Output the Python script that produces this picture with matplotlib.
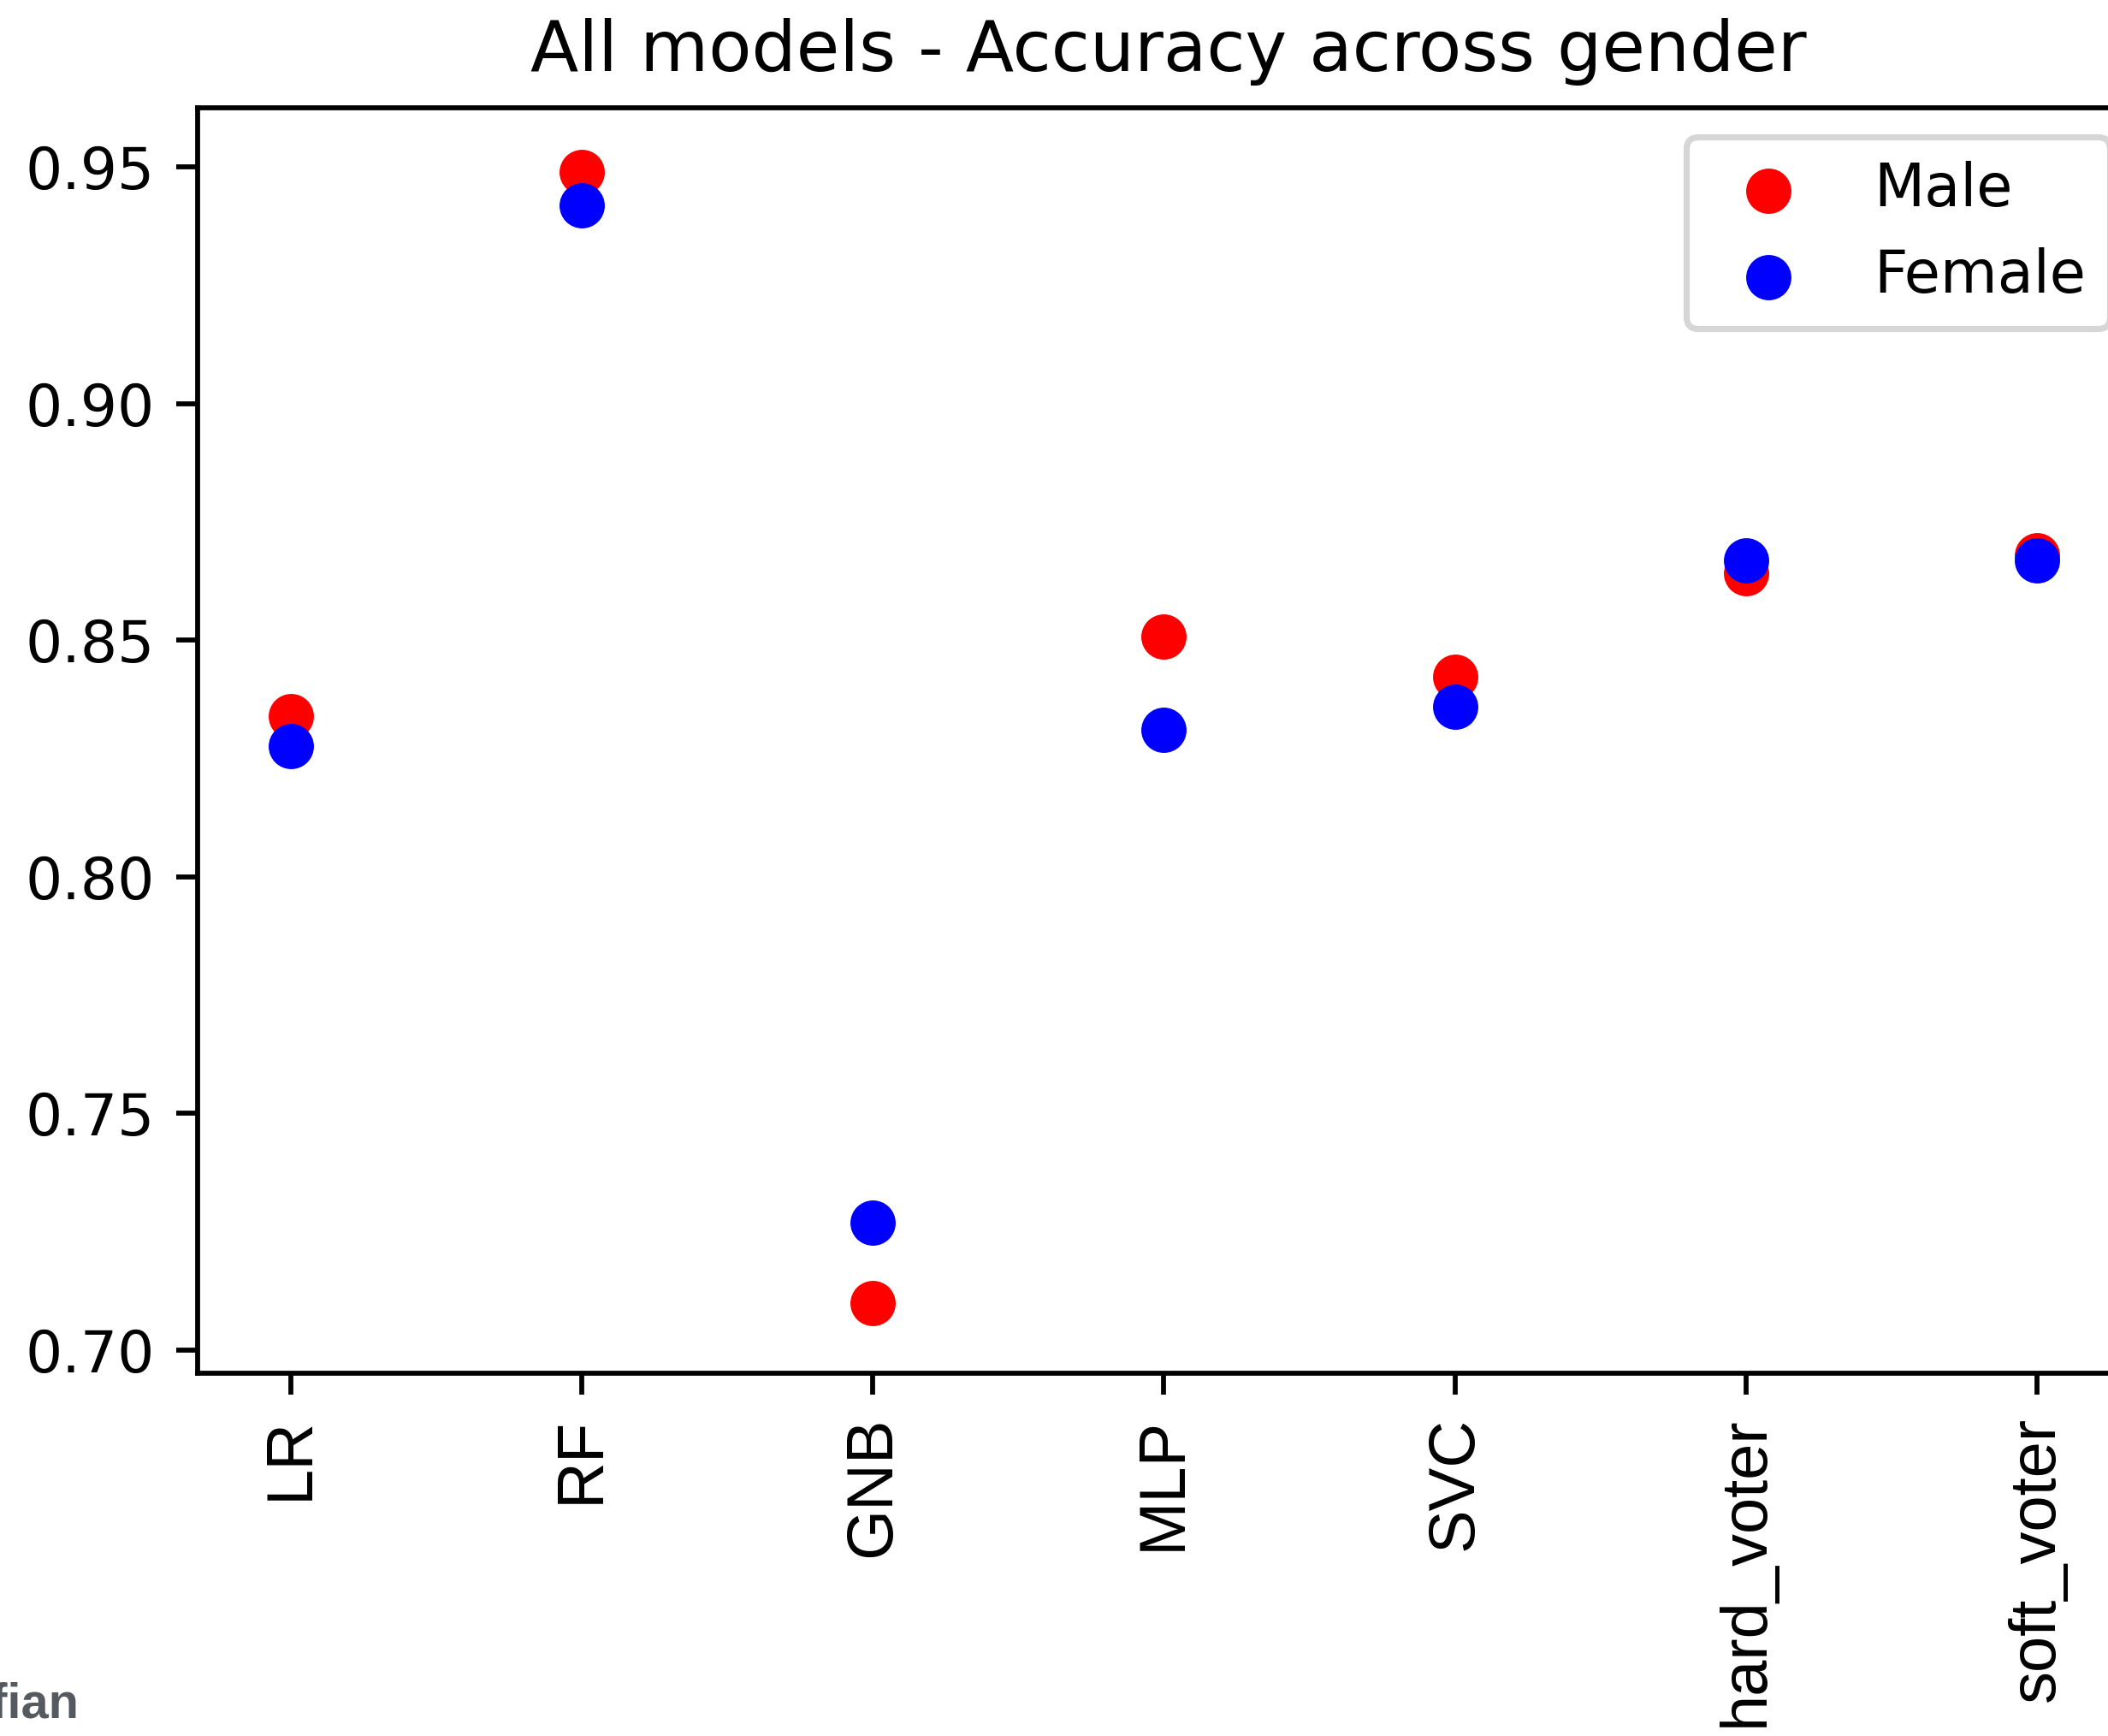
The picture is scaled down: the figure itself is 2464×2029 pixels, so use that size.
import matplotlib
matplotlib.use("Agg")
import matplotlib.pyplot as plt

models = ["LR", "RF", "GNB", "MLP", "SVC", "hard_voter", "soft_voter"]
male_acc = [0.834, 0.949, 0.7100, 0.8508, 0.8423, 0.8641, 0.8680]
female_acc = [0.8277, 0.9418, 0.7270, 0.8311, 0.8360, 0.8668, 0.8668]
yticks = [0.70, 0.75, 0.80, 0.85, 0.90, 0.95]

MAIN = "DejaVu Sans"

DPI = 520
W, H = 2464, 2029
fig = plt.figure(figsize=(W / DPI, H / DPI), dpi=DPI)
fig.patch.set_facecolor("white")

left_px, right_px, top_px, bottom_px = 231, 2500, 126, 1605
ax = fig.add_axes([left_px / W, 1 - bottom_px / H,
                   (right_px - left_px) / W, (bottom_px - top_px) / H])

x = list(range(len(models)))
ax.scatter(x, male_acc, color="red", s=40, label="Male", zorder=2)
ax.scatter(x, female_acc, color="blue", s=40, label="Female", zorder=3)

ax.set_xlim(-0.32, 6.35)
ax.set_ylim(0.6951, 0.9625)
ax.set_yticks(yticks)
ax.set_yticklabels([f"{v:.2f}" for v in yticks], fontsize=9.4, family=MAIN)
ax.set_xticks(x)
ax.set_xticklabels(models, rotation=90, fontsize=10.5, family="Liberation Sans")
ax.tick_params(direction="out", length=3.5, width=0.8)
for sp in ax.spines.values():
    sp.set_linewidth(0.8)

ax.set_title("All models - Accuracy across gender", fontsize=11.4, family=MAIN)
ax.legend(loc="upper right", prop={"family": MAIN, "size": 9.5}, scatterpoints=1,
          labelspacing=0.5)

fig.text(92 / W, 1 - 2008 / H, "nfian", ha="right", va="baseline",
         fontsize=8, fontweight="bold", color="#555a60", family="Liberation Sans")

fig.savefig("out.png", dpi=DPI)
